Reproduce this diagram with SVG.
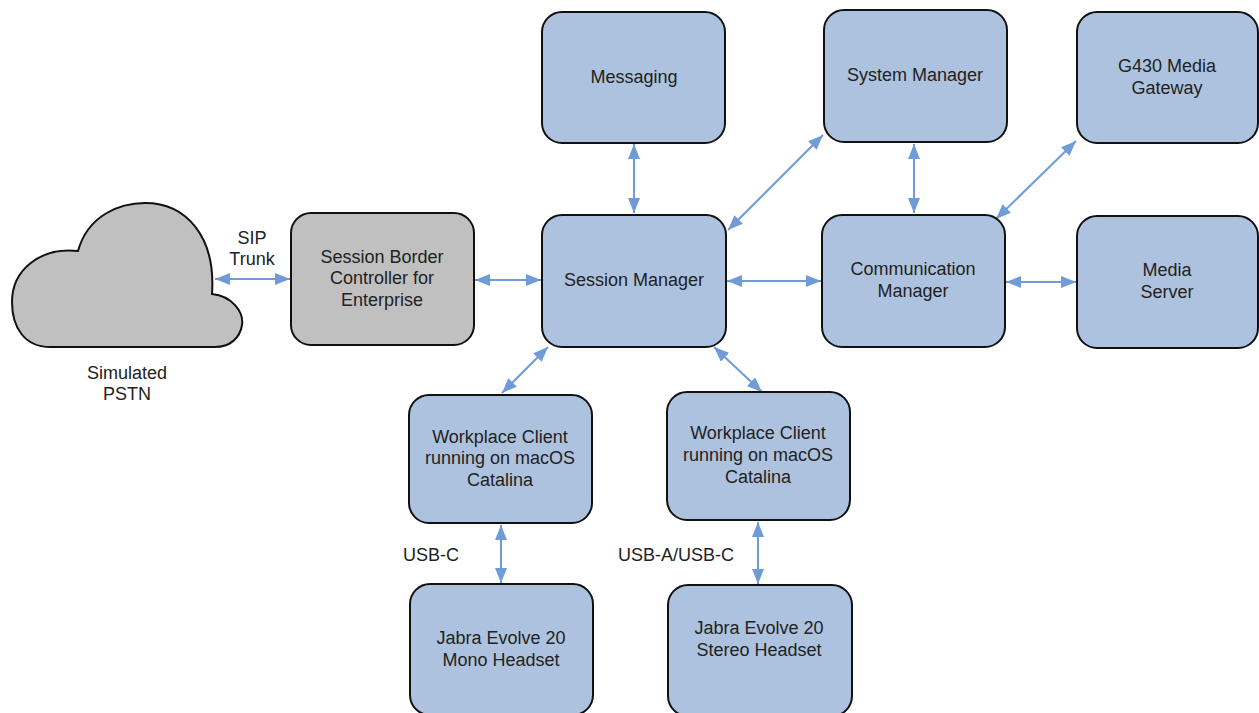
<svg xmlns="http://www.w3.org/2000/svg" width="1259" height="713" viewBox="0 0 1259 713">
<defs>
<marker id="ah" viewBox="0 0 15 12" markerWidth="15" markerHeight="12" markerUnits="userSpaceOnUse" refX="15" refY="6" orient="auto-start-reverse">
<path d="M0,0 L15,6 L0,12 z" fill="#6f9bd8"/>
</marker>
<style>
.box{fill:#adc2de;stroke:#111;stroke-width:2}
.gray{fill:#c0c0c0;stroke:#111;stroke-width:2}
.t{font-family:"Liberation Sans",Arial,sans-serif;font-size:18px;fill:#222;text-anchor:middle}
.l{font-family:"Liberation Sans",Arial,sans-serif;font-size:18px;fill:#222}
.c{stroke:#6f9bd8;stroke-width:2;fill:none;marker-start:url(#ah);marker-end:url(#ah)}
</style>
</defs>
<rect width="1259" height="713" fill="#fff"/>
<g id="connectors">
<line class="c" x1="215" y1="279" x2="290" y2="279"/>
<line class="c" x1="475" y1="280" x2="541" y2="280"/>
<line class="c" x1="634" y1="144" x2="634" y2="213"/>
<line class="c" x1="728" y1="230" x2="823" y2="135"/>
<line class="c" x1="914" y1="144" x2="914" y2="213"/>
<line class="c" x1="996" y1="219" x2="1076" y2="141"/>
<line class="c" x1="727" y1="281" x2="821" y2="281"/>
<line class="c" x1="1006" y1="282" x2="1076" y2="282"/>
<line class="c" x1="502" y1="393" x2="548" y2="347"/>
<line class="c" x1="714" y1="347" x2="762" y2="392"/>
<line class="c" x1="501" y1="525" x2="501" y2="583"/>
<line class="c" x1="758" y1="522" x2="758" y2="584"/>
</g>
<g id="pstn">
<path class="gray" d="M78,251 C88,215 120,203 145,203 C185,203 216,235 212,294 C232,296 244,312 242,325 C240,338 230,347 215,347 L50,347 C25,347 12,328 12,302 C12,270 40,247 78,251 Z"/>
<text class="t" x="127" y="379">Simulated</text>
<text class="t" x="127" y="400">PSTN</text>
</g>
<g id="siptrunk-label">
<text class="t" x="252" y="244">SIP</text>
<text class="t" x="252" y="265">Trunk</text>
</g>
<g id="sbc">
<rect class="gray" x="291" y="213" width="183" height="132" rx="20"/>
<text class="t" x="382" y="263">Session Border</text>
<text class="t" x="382" y="284">Controller for</text>
<text class="t" x="382" y="306">Enterprise</text>
</g>
<g id="messaging">
<rect class="box" x="542" y="12" width="183" height="131" rx="20"/>
<text class="t" x="634" y="83">Messaging</text>
</g>
<g id="session-manager">
<rect class="box" x="542" y="215" width="184" height="132" rx="20"/>
<text class="t" x="634" y="286">Session Manager</text>
</g>
<g id="system-manager">
<rect class="box" x="824" y="10" width="183" height="132" rx="20"/>
<text class="t" x="915" y="81">System Manager</text>
</g>
<g id="communication-manager">
<rect class="box" x="822" y="215" width="183" height="132" rx="20"/>
<text class="t" x="913" y="275">Communication</text>
<text class="t" x="913" y="297">Manager</text>
</g>
<g id="g430">
<rect class="box" x="1077" y="12" width="181" height="131" rx="20"/>
<text class="t" x="1167" y="72">G430 Media</text>
<text class="t" x="1167" y="94">Gateway</text>
</g>
<g id="media-server">
<rect class="box" x="1077" y="216" width="181" height="132" rx="20"/>
<text class="t" x="1167" y="276">Media</text>
<text class="t" x="1167" y="298">Server</text>
</g>
<g id="workplace-1">
<rect class="box" x="409" y="395" width="183" height="128" rx="20"/>
<text class="t" x="500" y="443">Workplace Client</text>
<text class="t" x="500" y="464">running on macOS</text>
<text class="t" x="500" y="486">Catalina</text>
</g>
<g id="workplace-2">
<rect class="box" x="667" y="392" width="183" height="128" rx="20"/>
<text class="t" x="758" y="439">Workplace Client</text>
<text class="t" x="758" y="461">running on macOS</text>
<text class="t" x="758" y="483">Catalina</text>
</g>
<g id="jabra-mono">
<rect class="box" x="410" y="584" width="183" height="131" rx="20"/>
<text class="t" x="501" y="644">Jabra Evolve 20</text>
<text class="t" x="501" y="666">Mono Headset</text>
</g>
<g id="jabra-stereo">
<rect class="box" x="668" y="585" width="184" height="131" rx="20"/>
<text class="t" x="759" y="634">Jabra Evolve 20</text>
<text class="t" x="759" y="656">Stereo Headset</text>
</g>
<g id="usb-labels">
<text class="l" x="403" y="561">USB-C</text>
<text class="l" x="618" y="561">USB-A/USB-C</text>
</g>
</svg>
